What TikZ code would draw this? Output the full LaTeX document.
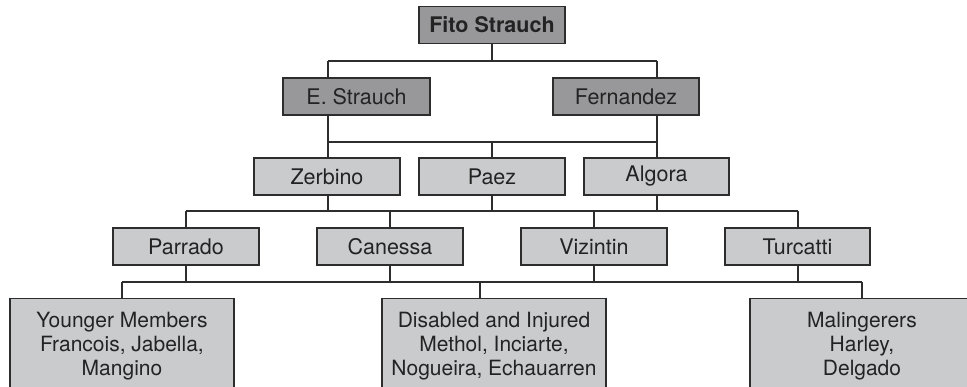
\documentclass[tikz,border=0pt]{standalone}
\usepackage{fontspec}
\setmainfont{TeX Gyre Heros}
\definecolor{darkbox}{RGB}{152,152,154}
\definecolor{lightbox}{RGB}{202,203,205}
\definecolor{edge}{RGB}{45,45,45}
\definecolor{ink}{RGB}{35,35,35}
\tikzset{
  box/.style={draw=edge, line width=1.4pt, minimum width=146pt, minimum height=37pt,
    inner sep=0pt, text=ink, font=\fontsize{21.5}{24}\selectfont},
  darkbx/.style={box, fill=darkbox},
  lightbx/.style={box, fill=lightbox},
  bigbx/.style={draw=edge, line width=1.4pt, fill=lightbox, minimum width=224pt,
    minimum height=94pt, inner sep=0pt, text=ink, align=center,
    font=\fontsize{21}{24}\selectfont},
  link/.style={draw=edge, line width=1.3pt}
}
\begin{document}
\begin{tikzpicture}[x=1pt,y=-1pt]
\useasboundingbox (0,0) rectangle (967,386);
\clip (0,0) rectangle (967,386);
% level 1
\node[darkbx] (fito) at (492,25) {\textbf{Fito Strauch}};
% level 2
\node[darkbx, minimum width=147pt] (es) at (356.5,96.5) {E. Strauch};
\node[darkbx] (fe) at (626,96.5) {Fernandez};
% level 3
\node[lightbx] (ze) at (327,176.5) {Zerbino};
\node[lightbx] (pa) at (492,176.5) {Paez};
\node[lightbx, minimum width=145pt] (al) at (656.5,176.5) {Algora};
% level 4
\node[lightbx] (pr) at (186,246.5) {Parrado};
\node[lightbx] (ca) at (390,246.5) {Canessa};
\node[lightbx] (vi) at (594,246.5) {Vizintin};
\node[lightbx, minimum width=145pt] (tu) at (797.5,246.5) {Turcatti};
% level 5
\node[bigbx, anchor=north] (yo) at (122,298) {Younger Members\\Francois, Jabella,\\Mangino};
\node[bigbx, anchor=north] (di) at (494,298) {Disabled and Injured\\Methol, Inciarte,\\Nogueira, Echauarren};
\node[bigbx, anchor=north] (ma) at (862,298) {Malingerers\\Harley,\\Delgado};
% bus coordinates
\coordinate (b1L) at (328,61);  \coordinate (b1R) at (657,61);
\coordinate (b2L) at (328,142); \coordinate (b2R) at (657,142);
\coordinate (b3L) at (186,211); \coordinate (b3R) at (798,211);
\coordinate (b4L) at (122,282); \coordinate (b4R) at (862,282);
\coordinate (dx) at (480,0);
% level 1 -> 2
\draw[link] (fito.south) -- (fito.south |- b1L);
\draw[link] (b1L) -- (b1R);
\draw[link] (b1L) -- (b1L |- es.north);
\draw[link] (b1R) -- (b1R |- fe.north);
% level 2 -> 3
\draw[link] (b2L |- es.south) -- (b2L);
\draw[link] (b2R |- fe.south) -- (b2R);
\draw[link] (b2L) -- (b2R);
\draw[link] (b2L) -- (b2L |- ze.north);
\draw[link] (pa.north) -- (pa.north |- b2L);
\draw[link] (b2R) -- (b2R |- al.north);
% level 3 -> 4
\draw[link] (b3L) -- (b3R);
\draw[link] (b2L |- ze.south) -- (b2L |- b3L);
\draw[link] (pa.south) -- (pa.south |- b3L);
\draw[link] (b2R |- al.south) -- (b2R |- b3L);
\draw[link] (b3L) -- (pr.north);
\draw[link] (ca.north) -- (ca.north |- b3L);
\draw[link] (vi.north) -- (vi.north |- b3L);
\draw[link] (b3R) -- (b3R |- tu.north);
% level 4 -> 5
\draw[link] (b4L) -- (b4R);
\draw[link] (pr.south) -- (pr.south |- b4L);
\draw[link] (ca.south) -- (ca.south |- b4L);
\draw[link] (vi.south) -- (vi.south |- b4L);
\draw[link] (b3R |- tu.south) -- (b3R |- b4L);
\draw[link] (b4L) -- (yo.north);
\draw[link] (dx |- di.north) -- (dx |- b4L);
\draw[link] (b4R) -- (ma.north);
\end{tikzpicture}
\end{document}
